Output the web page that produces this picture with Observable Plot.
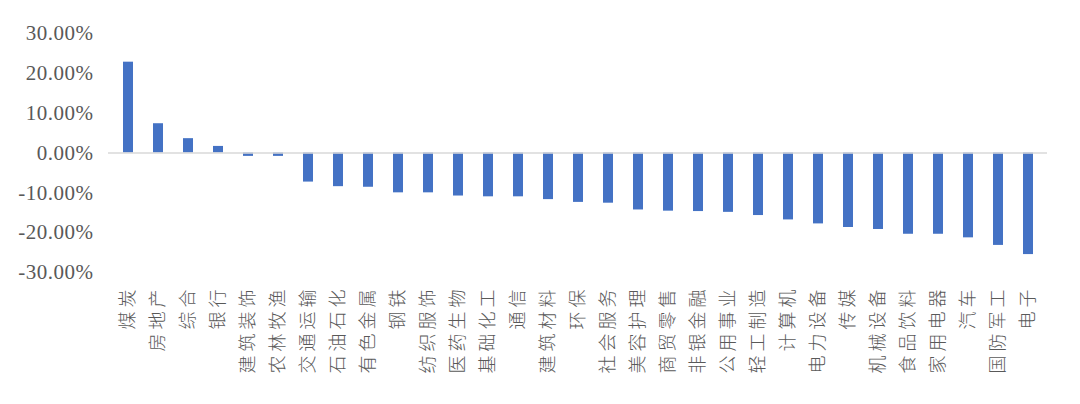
<!DOCTYPE html>
<html>
<head>
<meta charset="utf-8">
<script src="https://cdn.jsdelivr.net/npm/d3@7"></script>
<script src="https://cdn.jsdelivr.net/npm/@observablehq/plot@0.6"></script>
<style>
  html, body { margin: 0; padding: 0; background: #fff; }
  #chart svg { display: block; }
  .xlab text { letter-spacing: 4px; }
  .ylab text { letter-spacing: 0.5px; }
</style>
</head>
<body>
<div id="chart"></div>
<script>
const categories = ["煤炭","房地产","综合","银行","建筑装饰","农林牧渔","交通运输","石油石化","有色金属","钢铁","纺织服饰","医药生物","基础化工","通信","建筑材料","环保","社会服务","美容护理","商贸零售","非银金融","公用事业","轻工制造","计算机","电力设备","传媒","机械设备","食品饮料","家用电器","汽车","国防军工","电子"];
const values = [22.8,7.35,3.6,1.65,-0.85,-0.85,-7.3,-8.45,-8.6,-10.0,-10.0,-10.8,-11.0,-11.0,-11.7,-12.4,-12.6,-14.3,-14.6,-14.7,-14.9,-15.7,-16.8,-17.8,-18.7,-19.2,-20.4,-20.4,-21.3,-23.2,-25.5];
const yTicks = [-30,-20,-10,0,10,20,30];

const data = categories.map((c, i) => ({category: c, value: values[i]}));

const chart = Plot.plot({
  width: 1080,
  height: 404,
  marginLeft: 108,
  marginRight: 33,
  marginTop: 33,
  marginBottom: 132,
  x: {domain: categories, paddingInner: 0.67, paddingOuter: 0.335, label: null},
  y: {domain: [-30, 30], label: null},
  style: {background: "#fff"},
  marks: [
    Plot.axisY({
      ticks: yTicks,
      tickSize: 0,
      tickPadding: 15,
      tickFormat: d => d.toFixed(2) + "%",
      fontSize: 21,
      fontFamily: "Liberation Serif",
      fill: "#595959",
      className: "ylab",
      label: null
    }),
    Plot.axisX({
      tickSize: 0,
      tickRotate: -90,
      tickPadding: 13,
      fontSize: 18,
      fontFamily: "Noto Sans CJK SC",
      fontWeight: 300,
      fill: "#595959",
      className: "xlab",
      label: null
    }),
    Plot.barY(data, {x: "category", y: "value", fill: "#4472C4"}),
    Plot.ruleY([0], {stroke: "#d9d9d9", strokeWidth: 1.5})
  ]
});
document.getElementById("chart").appendChild(chart);
</script>
</body>
</html>
